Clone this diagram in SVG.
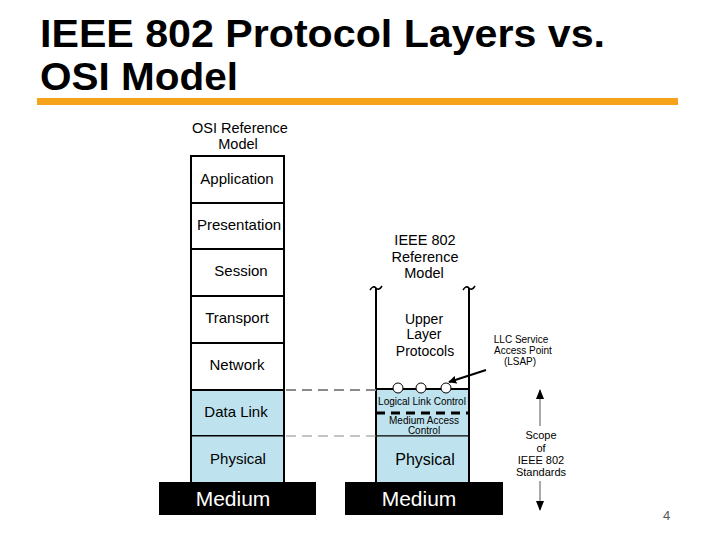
<svg xmlns="http://www.w3.org/2000/svg" width="720" height="540" viewBox="0 0 720 540">
<defs>
<style>
.t{font-family:"Liberation Sans",Arial,sans-serif;fill:#000}
.title{font-family:"Liberation Sans",Arial,sans-serif;font-weight:bold;font-size:38px;fill:#000}
.lbl{font-size:15px;text-anchor:middle}
.sm{font-size:10px;text-anchor:middle}
.med{font-family:"Liberation Sans",Arial,sans-serif;font-size:21px;fill:#fff;text-anchor:middle}
.box{stroke:#000;stroke-width:2}
.blue{fill:#BEE3EE}
.white{fill:#fff}
.dash{stroke:#8a8a8a;fill:none;stroke-dasharray:10 6}
</style>
<marker id="ah" viewBox="0 0 10 10" refX="9" refY="5" markerWidth="8" markerHeight="8" markerUnits="userSpaceOnUse" orient="auto"><path d="M0,0 L10,5 L0,10 z" fill="#000"/></marker>
<marker id="ah2" viewBox="0 0 10 10" refX="9" refY="5" markerWidth="10" markerHeight="10" markerUnits="userSpaceOnUse" orient="auto"><path d="M0,1 L10,5 L0,9 z" fill="#000"/></marker>
</defs>
<rect width="720" height="540" fill="#fff"/>

<g id="title">
<text class="title" x="40" y="47" textLength="565" lengthAdjust="spacingAndGlyphs">IEEE 802 Protocol Layers vs.</text>
<text class="title" x="40" y="90" textLength="198" lengthAdjust="spacingAndGlyphs">OSI Model</text>
<rect x="37" y="98" width="641" height="7" fill="#F5A31B"/>
</g>

<g id="osi-header">
<text class="t lbl" x="240" y="133" style="font-size:14.5px">OSI Reference</text>
<text class="t lbl" x="238" y="149" style="font-size:14.5px">Model</text>
</g>

<g id="osi-application"><rect class="box white" x="191" y="156" width="93" height="47"/><text class="t lbl" x="237" y="184">Application</text></g>
<g id="osi-presentation"><rect class="box white" x="191" y="203" width="93" height="46"/><text class="t lbl" x="239" y="230">Presentation</text></g>
<g id="osi-session"><rect class="box white" x="191" y="249" width="93" height="47"/><text class="t lbl" x="241" y="276">Session</text></g>
<g id="osi-transport"><rect class="box white" x="191" y="296" width="93" height="47"/><text class="t lbl" x="237" y="323">Transport</text></g>
<g id="osi-network"><rect class="box white" x="191" y="343" width="93" height="47"/><text class="t lbl" x="237" y="370">Network</text></g>
<g id="osi-datalink"><rect class="box blue" x="191" y="390" width="93" height="46"/><text class="t lbl" x="236" y="417">Data Link</text></g>
<g id="osi-physical"><rect class="blue" x="191" y="436" width="93" height="47"/><path d="M191,436 V483 M284,436 V483" stroke="#000" stroke-width="2" fill="none"/><path d="M191,436 H284" stroke="#000" stroke-width="1"/><text class="t lbl" x="238" y="464">Physical</text></g>
<g id="osi-medium"><rect x="159" y="482" width="157" height="33" fill="#000"/><text class="med" x="233" y="506">Medium</text></g>

<g id="ieee-header">
<text class="t lbl" x="425" y="245" style="font-size:14.5px">IEEE 802</text>
<text class="t lbl" x="425" y="262" style="font-size:14.5px">Reference</text>
<text class="t lbl" x="424" y="278" style="font-size:14.5px">Model</text>
</g>

<g id="ieee-upper">
<path d="M376,288 V390 M469,288 V390" stroke="#000" stroke-width="2" fill="none"/>
<path d="M370,290 q3,-5 6,-2 q3,3 6,-2 M463,290 q3,-5 6,-2 q3,3 6,-2" stroke="#000" stroke-width="1.5" fill="none"/>
<text class="t lbl" x="424" y="324" style="font-size:14px">Upper</text>
<text class="t lbl" x="424" y="339" style="font-size:14px">Layer</text>
<text class="t lbl" x="425" y="356" style="font-size:14px">Protocols</text>
</g>

<g id="ieee-llc">
<rect class="blue" x="376" y="389" width="93" height="24"/>
<path d="M376,389 V413 M469,389 V413" stroke="#000" stroke-width="2"/>
<line x1="376" y1="389" x2="469" y2="389" stroke="#000" stroke-width="2"/>
<circle cx="398" cy="388" r="5" fill="#fff" stroke="#000" stroke-width="1"/>
<circle cx="421" cy="388" r="5" fill="#fff" stroke="#000" stroke-width="1"/>
<circle cx="446" cy="388" r="5" fill="#fff" stroke="#000" stroke-width="1"/>
<text class="t sm" x="422" y="405">Logical Link Control</text>
</g>

<g id="ieee-mac">
<rect class="blue" x="376" y="413" width="93" height="23"/>
<path d="M376,413 V436 M469,413 V436" stroke="#000" stroke-width="2"/>
<line x1="376" y1="413" x2="469" y2="413" stroke="#000" stroke-width="3" stroke-dasharray="9 6"/>
<line x1="376" y1="436" x2="469" y2="436" stroke="#000" stroke-width="1"/>
<text class="t sm" x="424" y="424">Medium Access</text>
<text class="t sm" x="424" y="434">Control</text>
</g>

<g id="ieee-physical">
<rect class="blue" x="376" y="436" width="93" height="47"/>
<path d="M376,436 V483 M469,436 V483" stroke="#000" stroke-width="2"/>
<line x1="376" y1="436" x2="469" y2="436" stroke="#000" stroke-width="1"/>
<text class="t lbl" x="425" y="465" style="font-size:16px">Physical</text>
</g>

<g id="ieee-medium"><rect x="345" y="482" width="158" height="33" fill="#000"/><text class="med" x="419" y="506">Medium</text></g>

<g id="lsap-label">
<text class="t sm" x="521" y="343">LLC Service</text>
<text class="t sm" x="523" y="354">Access Point</text>
<text class="t sm" x="520" y="365">(LSAP)</text>
</g>

<g id="scope-label">
<text class="t sm" x="541" y="439" style="font-size:11px">Scope</text>
<text class="t sm" x="541" y="452" style="font-size:11px">of</text>
<text class="t sm" x="541" y="464" style="font-size:11px">IEEE 802</text>
<text class="t sm" x="541" y="476" style="font-size:11px">Standards</text>
</g>

<g id="connectors">
<line class="dash" x1="286" y1="390" x2="376" y2="390" stroke-width="2"/>
<line class="dash" x1="286" y1="436" x2="376" y2="436" stroke-width="1"/>
<line x1="486" y1="370" x2="449" y2="382" stroke="#000" stroke-width="2" marker-end="url(#ah)"/>
<line x1="540" y1="426" x2="540" y2="390" stroke="#555" stroke-width="1" marker-end="url(#ah2)"/>
<line x1="540" y1="481" x2="540" y2="510" stroke="#555" stroke-width="1" marker-end="url(#ah2)"/>
</g>

<g id="page-number"><text class="t" x="663" y="520" style="font-size:13px;fill:#555">4</text></g>
</svg>
